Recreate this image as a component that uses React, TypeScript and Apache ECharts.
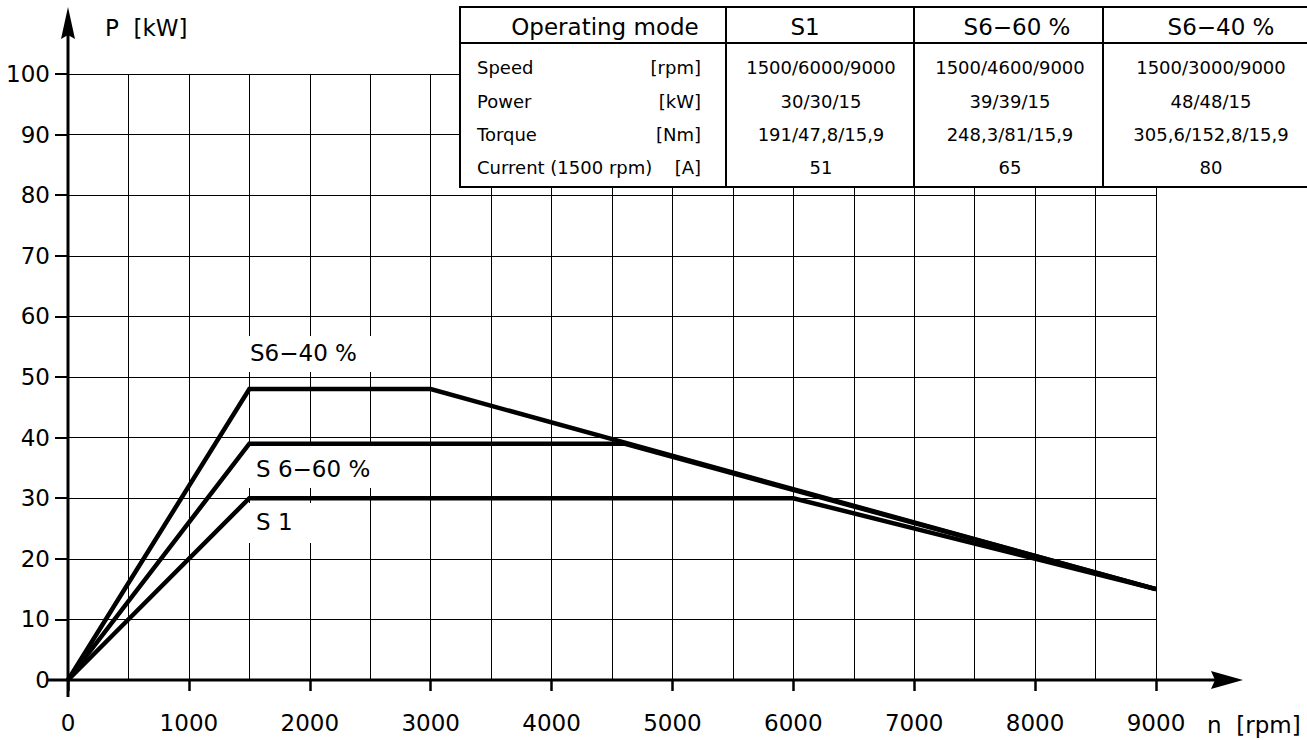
import React, { useEffect, useRef } from "react";
import * as echarts from "echarts";

// Power curves: speed [rpm] against power [kW]
const rpmS1 = [0, 1500, 6000, 9000];
const kwS1 = [0, 30, 30, 15];
const rpmS660 = [0, 1500, 4600, 9000];
const kwS660 = [0, 39, 39, 15];
const rpmS640 = [0, 1500, 3000, 9000];
const kwS640 = [0, 48, 48, 15];

// Rating table
const tableHeader = ["Operating mode", "S1", "S6\u221260 %", "S6\u221240 %"];
const rowLabels = ["Speed", "Power", "Torque", "Current (1500 rpm)"];
const rowUnits = ["[rpm]", "[kW]", "[Nm]", "[A]"];
const colS1 = ["1500/6000/9000", "30/30/15", "191/47,8/15,9", "51"];
const colS660 = ["1500/4600/9000", "39/39/15", "248,3/81/15,9", "65"];
const colS640 = ["1500/3000/9000", "48/48/15", "305,6/152,8/15,9", "80"];

const FONT = "DejaVu Sans";

const toPairs = (xs: number[], ys: number[]) => xs.map((x, i) => [x, ys[i]]);

export default function App() {
  const ref = useRef<HTMLDivElement>(null);

  useEffect(() => {
    if (!ref.current) return;
    const chart = echarts.init(ref.current, null, { renderer: "svg" });

    const lineSeries = (name: string, data: number[][]) => ({
      name,
      type: "line",
      data,
      symbol: "none",
      z: 3,
      lineStyle: { color: "#000", width: 4.5, join: "miter", cap: "butt" },
    });

    const txt = (
      text: string,
      x: number,
      y: number,
      size: number,
      align: string = "left",
      z = 21
    ) => ({
      type: "text",
      x,
      y,
      z,
      silent: true,
      style: {
        text,
        fill: "#000",
        font: `${size}px '${FONT}'`,
        align,
        verticalAlign: "middle",
      },
    });

    const rowY = [67, 101, 134, 167];
    const colCenters = [821, 1010, 1211];
    const cols = [colS1, colS660, colS640];
    const headerX = [605, 805, 1017, 1221];

    const tableEls: any[] = [
      {
        type: "rect",
        z: 20,
        shape: { x: 460, y: 7, width: 870, height: 180 },
        style: { fill: "#fff", stroke: "#000", lineWidth: 2 },
      },
      {
        type: "line",
        z: 21,
        shape: { x1: 460, y1: 43, x2: 1330, y2: 43 },
        style: { stroke: "#000", lineWidth: 2 },
      },
      ...[726, 914, 1103].map((x) => ({
        type: "line",
        z: 21,
        shape: { x1: x, y1: 7, x2: x, y2: 187 },
        style: { stroke: "#000", lineWidth: 2 },
      })),
      txt(tableHeader[0], headerX[0], 27, 23, "center"),
      txt(tableHeader[1], headerX[1], 27, 23, "center"),
      txt(tableHeader[2], headerX[2], 27, 23, "center"),
      txt(tableHeader[3], headerX[3], 27, 23, "center"),
    ];
    rowLabels.forEach((lab, i) => {
      tableEls.push(txt(lab, 477, rowY[i], 18, "left"));
      tableEls.push(txt(rowUnits[i], 701, rowY[i], 18, "right"));
      cols.forEach((c, j) => tableEls.push(txt(c[i], colCenters[j], rowY[i], 18, "center")));
    });

    // curve labels on white boxes
    const labelEls: any[] = [
      { type: "rect", z: 1, shape: { x: 244, y: 336, width: 132, height: 36 }, style: { fill: "#fff" } },
      txt("S6\u221240 %", 250, 353, 23, "left", 4),
      { type: "rect", z: 1, shape: { x: 245, y: 446, width: 136, height: 42 }, style: { fill: "#fff" } },
      txt("S 6\u221260 %", 256, 469, 23, "left", 4),
      { type: "rect", z: 1, shape: { x: 245, y: 503, width: 75, height: 40 }, style: { fill: "#fff" } },
      txt("S 1", 256, 522, 23, "left", 4),
    ];

    // axes with arrows
    const axisEls: any[] = [
      {
        type: "line",
        z: 10,
        shape: { x1: 68, y1: 697, x2: 68, y2: 30 },
        style: { stroke: "#000", lineWidth: 3 },
      },
      {
        type: "polygon",
        z: 10,
        shape: { points: [[68, 7], [61, 39], [68, 35], [75, 39]] },
        style: { fill: "#000" },
      },
      {
        type: "line",
        z: 10,
        shape: { x1: 48, y1: 680, x2: 1218, y2: 680 },
        style: { stroke: "#000", lineWidth: 3 },
      },
      {
        type: "polygon",
        z: 10,
        shape: { points: [[1243, 680], [1211, 671], [1215, 680], [1211, 689]] },
        style: { fill: "#000" },
      },
      txt("P  [kW]", 105, 28, 23, "left", 10),
      txt("n  [rpm]", 1207, 725, 23, "left", 10),
    ];

    chart.setOption({
      animation: false,
      backgroundColor: "#fff",
      grid: { left: 68, top: 74, width: 1088, height: 606, containLabel: false },
      xAxis: [
        {
          type: "value",
          min: 0,
          max: 9000,
          interval: 500,
          position: "bottom",
          axisLine: { show: false },
          axisTick: { show: false },
          axisLabel: { show: false },
          splitLine: { show: true, lineStyle: { color: "#000", width: 1 } },
        },
        {
          type: "value",
          min: 0,
          max: 9000,
          interval: 1000,
          position: "bottom",
          axisLine: { show: false },
          axisTick: { show: true, inside: false, length: 11, lineStyle: { color: "#000", width: 2.5 } },
          axisLabel: {
            show: true,
            margin: 31,
            fontSize: 23,
            fontFamily: FONT,
            color: "#000",
            formatter: (v: number) => String(v),
          },
          splitLine: { show: false },
        },
      ],
      yAxis: {
        type: "value",
        min: 0,
        max: 100,
        interval: 10,
        axisLine: { show: false },
        axisTick: { show: true, inside: false, length: 13, lineStyle: { color: "#000", width: 2 } },
        axisLabel: {
          show: true,
          margin: 18,
          fontSize: 23,
          fontFamily: FONT,
          color: "#000",
          formatter: (v: number) => String(v),
        },
        splitLine: { show: true, lineStyle: { color: "#000", width: 1 } },
      },
      series: [
        lineSeries("S 1", toPairs(rpmS1, kwS1)),
        lineSeries("S 6\u221260 %", toPairs(rpmS660, kwS660)),
        lineSeries("S6\u221240 %", toPairs(rpmS640, kwS640)),
      ],
      graphic: [...labelEls, ...axisEls, ...tableEls],
    });

    return () => chart.dispose();
  }, []);

  return (
    <div
      ref={ref}
      style={{ position: "absolute", left: 0, top: 0, width: 1307, height: 740, background: "#fff" }}
    />
  );
}
